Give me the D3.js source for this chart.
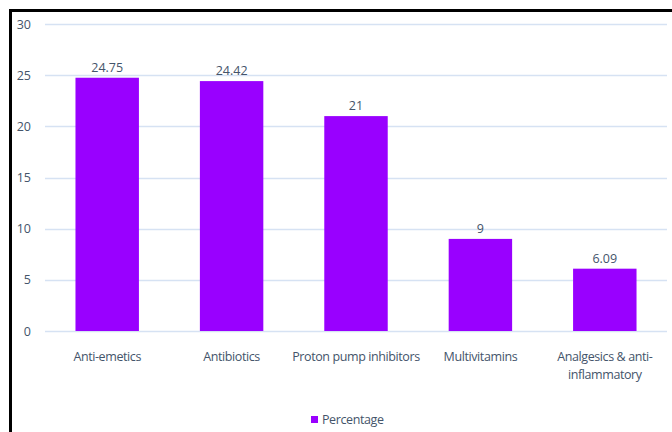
<!DOCTYPE html>
<html>
<head>
<meta charset="utf-8">
<script src="https://cdn.jsdelivr.net/npm/d3@7"></script>
<style>
  body { margin: 0; background: #fff; }
  svg { display: block; font-family: "Open Sans", sans-serif; }
</style>
</head>
<body>
<div id="chart"></div>
<script>
const categories = ["Anti-emetics", "Antibiotics", "Proton pump inhibitors", "Multivitamins", "Analgesics & anti-inflammatory"];
const percentages = [24.75, 24.42, 21, 9, 6.09];
const valueLabels = ["24.75", "24.42", "21", "9", "6.09"];
const yTicks = [0, 5, 10, 15, 20, 25, 30];
const seriesName = "Percentage";

const W = 672, H = 432;
const plot = { left: 45, right: 667, top: 24, bottom: 331 };
const textColor = "#44546a";
const barColor = "#9900ff";

const svg = d3.select("#chart").append("svg")
  .attr("width", W).attr("height", H);

// marco (solo izquierda y arriba visibles)
svg.append("path")
  .attr("d", `M10.5,${H} V10.5 H${W}`)
  .attr("fill", "none")
  .attr("stroke", "#000")
  .attr("stroke-width", 3);

const x = d3.scaleBand().domain(categories).range([plot.left, plot.right]).paddingInner(0.49).paddingOuter(0.245);
const y = d3.scaleLinear().domain([0, 30]).range([plot.bottom, plot.top]);

// Rejilla
svg.append("g")
  .selectAll("line")
  .data(yTicks)
  .join("line")
  .attr("x1", plot.left).attr("x2", plot.right)
  .attr("y1", d => Math.round(y(d)) + 0.5).attr("y2", d => Math.round(y(d)) + 0.5)
  .attr("stroke", "#d6e2f3")
  .attr("stroke-width", 1.5);

// Eje Y
const yAxis = svg.append("g")
  .attr("transform", `translate(${plot.left - 14},0)`)
  .call(d3.axisLeft(y).tickValues(yTicks).tickSize(0).tickPadding(0));
yAxis.select(".domain").remove();
yAxis.selectAll("text")
  .attr("fill", textColor)
  .attr("font-size", 12.5)
  .attr("font-family", "Open Sans, sans-serif");

// Barras
svg.append("g")
  .selectAll("rect")
  .data(percentages)
  .join("rect")
  .attr("x", (d, i) => x(categories[i]))
  .attr("y", d => y(d))
  .attr("width", x.bandwidth())
  .attr("height", d => y(0) - y(d))
  .attr("fill", barColor);

// Etiquetas de valor
svg.append("g")
  .selectAll("text")
  .data(percentages)
  .join("text")
  .attr("x", (d, i) => x(categories[i]) + x.bandwidth() / 2)
  .attr("y", d => y(d) - 6)
  .attr("text-anchor", "middle")
  .attr("fill", textColor)
  .attr("font-size", 12.5)
  .text((d, i) => valueLabels[i]);

// Categorias
const catLines = [["Anti-emetics"], ["Antibiotics"], ["Proton pump inhibitors"], ["Multivitamins"], ["Analgesics & anti-", "inflammatory"]];
const cat = svg.append("g")
  .selectAll("text")
  .data(categories)
  .join("text")
  .attr("x", d => x(d) + x.bandwidth() / 2)
  .attr("y", 361)
  .attr("text-anchor", "middle")
  .attr("fill", textColor)
  .attr("font-size", 12.5)
  .attr("letter-spacing", -0.4);
cat.selectAll("tspan")
  .data((d, i) => catLines[i])
  .join("tspan")
  .attr("x", function () { return this.parentNode.getAttribute("x"); })
  .attr("dy", (d, i) => i === 0 ? 0 : 18)
  .text(d => d);

// Leyenda
svg.append("rect")
  .attr("x", 311).attr("y", 416)
  .attr("width", 7).attr("height", 7)
  .attr("fill", barColor);
svg.append("text")
  .attr("x", 322).attr("y", 424)
  .attr("fill", textColor)
  .attr("font-size", 12.5)
  .attr("letter-spacing", -0.4)
  .text(seriesName);
</script>
</body>
</html>
